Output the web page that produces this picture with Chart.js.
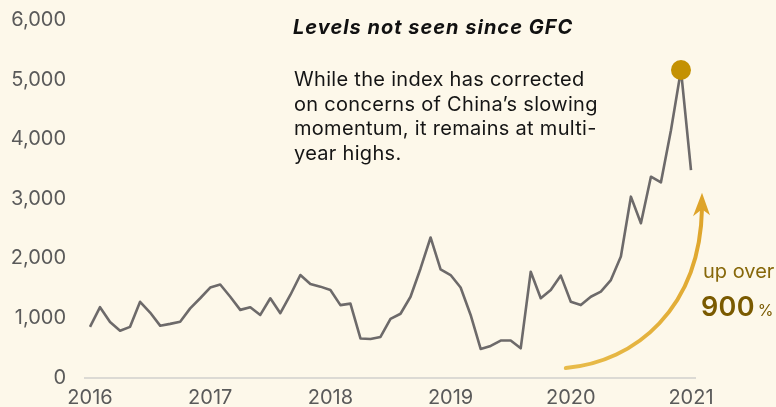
<!DOCTYPE html>
<html><head><meta charset="utf-8">
<script src="https://cdn.jsdelivr.net/npm/chart.js@4/dist/chart.umd.min.js"></script>
<style>
html,body{margin:0;padding:0;background:#fdf8ea;}
#wrap{position:relative;width:776px;height:407px;overflow:hidden;background:#fdf8ea;}
canvas{position:absolute;left:0;top:0;}
.t{position:absolute;font-family:Inter,'Liberation Sans',sans-serif;white-space:nowrap;}
</style></head><body>
<div id="wrap"><canvas id="c" width="776" height="407"></canvas>
<div class="t" style="left:293px;top:16px;font-size:20px;line-height:22px;letter-spacing:1px;font-weight:700;font-style:italic;color:#111;">Levels not seen since GFC</div>
<div class="t" style="left:294px;top:67px;font-size:20px;line-height:24.7px;letter-spacing:0.3px;color:#151515;">While the index has corrected<br>on concerns of China’s slowing<br>momentum, it remains at multi-<br>year highs.</div>
<div class="t" style="left:703px;top:260px;font-size:20px;line-height:22px;color:#87680a;">up over</div>
<div class="t" style="left:701px;top:292px;font-size:27px;line-height:30px;letter-spacing:0.3px;font-weight:600;color:#7a5a00;">900<span style="font-size:16px;font-weight:400;letter-spacing:0;margin-left:3px;">%</span></div>
</div>
<script>
// Year tick labels (one per January)
const years = ['2016','2017','2018','2019','2020','2021'];
// Monthly index values, Jan 2016 .. Jan 2021
const values2016 = [850,1180,930,785,850,1270,1090,870,900,935,1160,1330];
const values2017 = [1510,1560,1355,1135,1180,1050,1330,1080,1385,1720,1570,1525];
const values2018 = [1470,1215,1240,655,645,680,985,1070,1355,1830,2350,1815];
const values2019 = [1720,1510,1050,480,530,620,620,490,1775,1330,1470,1710];
const values2020 = [1270,1215,1355,1440,1635,2030,3035,2590,3370,3275,4150,5160];
const values2021 = [3480];
const yTicks = [0,1000,2000,3000,4000,5000,6000];

const series = [].concat(values2016,values2017,values2018,values2019,values2020,values2021);
const points = series.map((v,i)=>({x:i,y:v}));
const peakIdx = series.indexOf(Math.max(...series));

const arrowPlugin = {
  id:'arrow',
  afterDatasetsDraw(chart){
    const ctx = chart.ctx, xs = chart.scales.x, ys = chart.scales.y;
    const x0 = xs.getPixelForValue(47.5), y0 = ys.getPixelForValue(160);
    const x3 = xs.getPixelForValue(61.1), y3 = ys.getPixelForValue(2840);
    const tipY = ys.getPixelForValue(3100);
    ctx.save();
    const g = ctx.createLinearGradient(x0,y0,x3,y3);
    g.addColorStop(0,'#e8bb4a'); g.addColorStop(1,'#dea42a');
    ctx.strokeStyle = g; ctx.lineWidth = 4; ctx.lineCap='round';
    ctx.beginPath();
    ctx.moveTo(x0,y0);
    ctx.bezierCurveTo(x0+70,y0-6, x3-2,y0-60, x3,y3);
    ctx.stroke();
    ctx.fillStyle = '#dea42a';
    ctx.beginPath();
    ctx.moveTo(x3,tipY);
    ctx.lineTo(x3+8,y3+7);
    ctx.lineTo(x3,y3+1);
    ctx.lineTo(x3-9,y3+8);
    ctx.closePath();
    ctx.fill();
    ctx.restore();
  }
};

new Chart(document.getElementById('c'),{
  type:'line',
  data:{datasets:[{
    data:points,
    borderColor:'#6d6a6a',
    borderWidth:2.6,
    tension:0,
    fill:false,
    clip:false,
    pointRadius:c=>c.dataIndex===peakIdx?10:0,
    pointHoverRadius:c=>c.dataIndex===peakIdx?10:0,
    pointBackgroundColor:'#c49102',
    pointBorderWidth:0,
    borderJoinStyle:'round'
  }]},
  options:{
    responsive:false,
    devicePixelRatio:1,
    animation:false,
    events:[],
    layout:{padding:{top:20,right:81,bottom:0,left:0}},
    plugins:{legend:{display:false},tooltip:{enabled:false}},
    scales:{
      x:{
        type:'linear', min:-0.5, max:60.4,
        afterBuildTicks:s=>{s.ticks = years.map((y,i)=>({value:i*12}));},
        afterFit:s=>{s.height=29.5;},
        grid:{display:false,drawTicks:false},
        border:{display:true,color:'#dcdad4',width:2},
        ticks:{padding:8,color:'#5a5a5a',font:{family:'Inter',size:20},
          callback:v=>years[Math.round(v/12)], maxRotation:0, autoSkip:false}
      },
      y:{
        min:0,max:6000,
        afterBuildTicks:s=>{s.ticks = yTicks.map(v=>({value:v}));},
        afterFit:s=>{s.width=85; s.paddingTop=0; s.paddingBottom=0;},
        grid:{display:false,drawTicks:false},
        border:{display:false},
        ticks:{padding:19,color:'#5a5a5a',font:{family:'Inter',size:20},
          callback:v=>v.toLocaleString('en-US')}
      }
    }
  },
  plugins:[arrowPlugin]
});
</script>
</body></html>
